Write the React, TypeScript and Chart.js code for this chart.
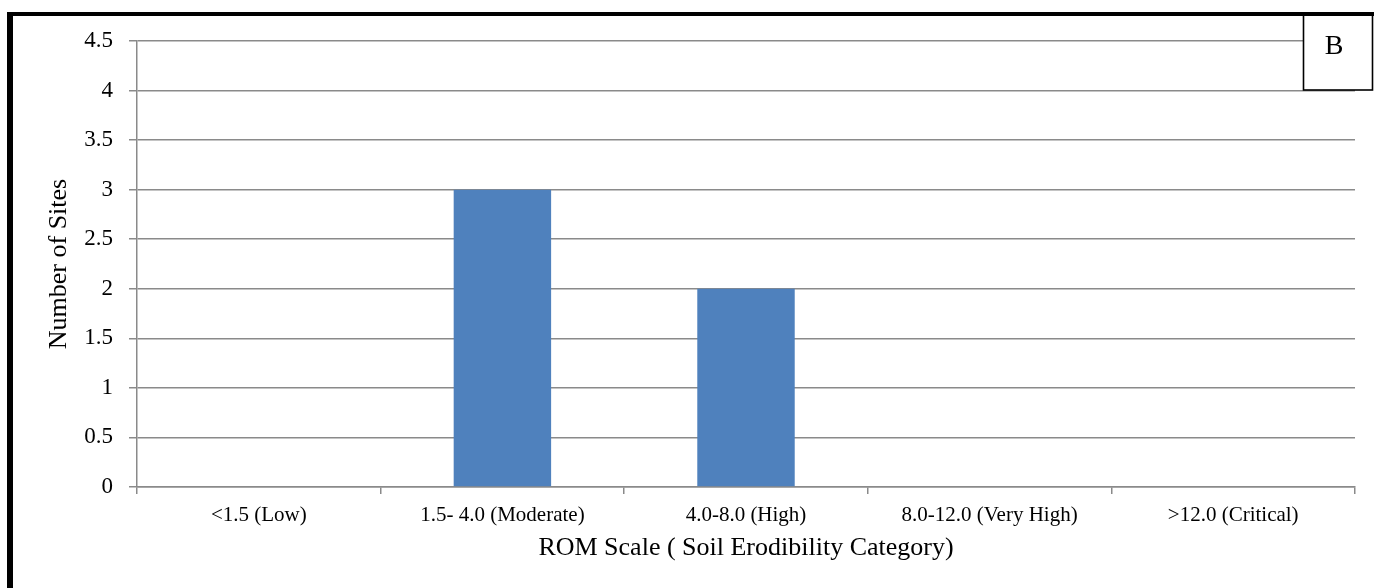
import React, { useEffect, useRef } from "react";
import { Chart, registerables } from "chart.js";

Chart.register(...registerables);

const categories = [
  "<1.5 (Low)",
  "1.5- 4.0 (Moderate)",
  "4.0-8.0 (High)",
  "8.0-12.0 (Very High)",
  ">12.0 (Critical)",
];
const siteCounts = [0, 3, 2, 0, 0];
const yMin = 0;
const yMax = 4.5;
const yStep = 0.5;
const xAxisTitle = "ROM Scale ( Soil Erodibility Category)";
const yAxisTitle = "Number of Sites";
const panelLabel = "B";

const W = 1374;
const H = 588;
const SERIF = "'Liberation Serif', 'Times New Roman', serif";
const AXIS_GRAY = "#8a8a8a";

const framePlugin = {
  id: "framePlugin",
  beforeDraw(chart: any) {
    const ctx = chart.ctx;
    ctx.save();
    ctx.fillStyle = "#ffffff";
    ctx.fillRect(0, 0, chart.width, chart.height);
    ctx.restore();
  },
  afterDraw(chart: any) {
    const ctx = chart.ctx;
    ctx.save();
    // outer frame: top and left thick black lines
    ctx.fillStyle = "#000000";
    ctx.fillRect(7, 12, chart.width - 7, 4);
    ctx.fillRect(7, 12, 6, chart.height - 12);
    // panel label box
    ctx.fillStyle = "#ffffff";
    ctx.fillRect(1303, 16, 70, 74);
    ctx.strokeStyle = "#000000";
    ctx.lineWidth = 1.6;
    ctx.strokeRect(1303.5, 15, 69, 75);
    ctx.fillStyle = "#000000";
    ctx.font = `28px ${SERIF}`;
    ctx.textAlign = "center";
    ctx.textBaseline = "middle";
    ctx.fillText(panelLabel, 1334, 47);
    ctx.restore();
  },
};

export default function App() {
  const ref = useRef<HTMLCanvasElement | null>(null);

  useEffect(() => {
    if (!ref.current) return;
    const chart = new Chart(ref.current, {
      type: "bar",
      data: {
        labels: categories,
        datasets: [
          {
            label: "Number of Sites",
            data: siteCounts,
            backgroundColor: "#4F81BD",
            borderWidth: 0,
            barPercentage: 0.4,
            categoryPercentage: 1,
          },
        ],
      },
      options: {
        animation: false,
        responsive: false,
        devicePixelRatio: 1,
        layout: { padding: { left: 0, right: 19, top: 41, bottom: 0 } },
        plugins: {
          legend: { display: false },
          tooltip: { enabled: false },
        },
        scales: {
          x: {
            offset: true,
            grid: {
              offset: true,
              drawOnChartArea: false,
              drawTicks: true,
              tickLength: 7,
              color: AXIS_GRAY,
              lineWidth: 1.5,
            },
            border: { display: true, color: AXIS_GRAY, width: 1.5 },
            ticks: {
              color: "#000000",
              font: { family: SERIF, size: 21 },
              padding: 9,
              maxRotation: 0,
              autoSkip: false,
            },
            title: {
              display: true,
              text: xAxisTitle,
              color: "#000000",
              font: { family: SERIF, size: 26 },
              padding: { top: 24, bottom: 24 },
            },
            afterFit: (s: any) => {
              s.height = 101;
            },
          },
          y: {
            min: yMin,
            max: yMax,
            grid: {
              drawTicks: true,
              tickLength: 8,
              color: AXIS_GRAY,
              lineWidth: 1.5,
            },
            border: { display: true, color: AXIS_GRAY, width: 1.5 },
            ticks: {
              stepSize: yStep,
              color: "#000000",
              font: { family: SERIF, size: 23 },
              padding: 16,
              callback: (value: any) => String(Number(value)),
            },
            title: {
              display: true,
              text: yAxisTitle,
              color: "#000000",
              font: { family: SERIF, size: 26 },
              padding: { top: 44, bottom: 44 },
            },
            afterFit: (s: any) => {
              s.width = 137;
            },
          },
        },
      },
      plugins: [framePlugin],
    });
    return () => chart.destroy();
  }, []);

  return (
    <div style={{ position: "absolute", left: 0, top: 0, width: W, height: H, background: "#fff" }}>
      <canvas ref={ref} width={W} height={H} />
    </div>
  );
}
